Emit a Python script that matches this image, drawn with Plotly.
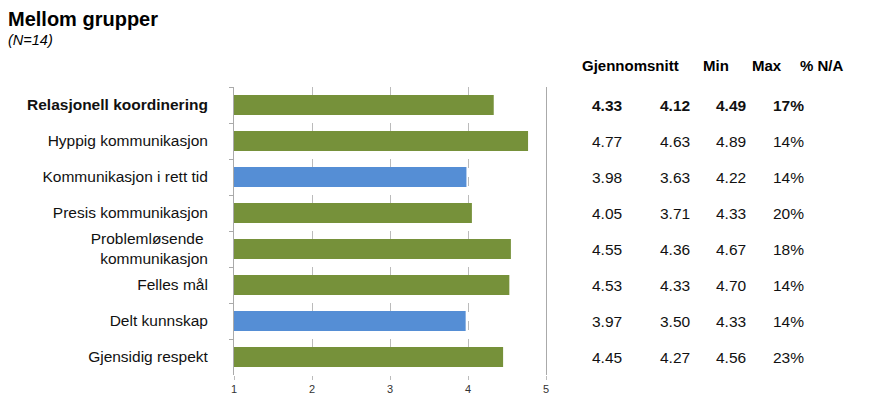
import plotly.graph_objects as go

categories = [
    "<b>Relasjonell koordinering</b>",
    "Hyppig kommunikasjon",
    "Kommunikasjon i rett tid",
    "Presis kommunikasjon",
    "Problemløsende <br>kommunikasjon",
    "Felles mål",
    "Delt kunnskap",
    "Gjensidig respekt",
]
snitt = [4.33, 4.77, 3.98, 4.05, 4.55, 4.53, 3.97, 4.45]
minimum = [4.12, 4.63, 3.63, 3.71, 4.36, 4.33, 3.50, 4.27]
maksimum = [4.49, 4.89, 4.22, 4.33, 4.67, 4.70, 4.33, 4.56]
pct_na = [17, 14, 14, 20, 18, 14, 14, 23]
is_blue = [False, False, True, False, False, False, True, False]

headers = ["Gjennomsnitt", "Min", "Max", "% N/A"]

GREEN = "#76913A"
BLUE = "#558ED5"
FONT = "Liberation Sans, Arial, sans-serif"

W, H = 882, 402
L, R, T, B = 234, 336, 87, 27
plot_w = W - L - R


def px_to_paper(px):
    return (px - L) / plot_w


fig = go.Figure(
    go.Bar(
        x=snitt,
        y=categories,
        orientation="h",
        marker=dict(color=[BLUE if b else GREEN for b in is_blue], line=dict(width=0)),
        width=0.56,
        hoverinfo="x+y",
    )
)

# title block
fig.add_annotation(
    x=px_to_paper(6), y=1, xref="paper", yref="paper", yshift=T - 19,
    text="<b>Mellom grupper</b>", showarrow=False,
    font=dict(size=20, color="#000"), xanchor="left", yanchor="middle",
)
fig.add_annotation(
    x=px_to_paper(6), y=1, xref="paper", yref="paper", yshift=T - 40,
    text="<i>(N=14)</i>", showarrow=False,
    font=dict(size=14.5, color="#000"), xanchor="left", yanchor="middle",
)

# table columns next to the chart
col_x = [607, 675, 731, 788]
head_x = [630, 716, 767, 822]
for hx, h in zip(head_x, headers):
    fig.add_annotation(
        x=px_to_paper(hx), y=1, xref="paper", yref="paper", yshift=T - 65,
        text=f"<b>{h}</b>", showarrow=False, font=dict(size=15, color="#000"),
        xanchor="center", yanchor="middle",
    )

for i, cat in enumerate(categories):
    vals = [f"{snitt[i]:.2f}", f"{minimum[i]:.2f}", f"{maksimum[i]:.2f}", f"{pct_na[i]}%"]
    for cx, v in zip(col_x, vals):
        txt = f"<b>{v}</b>" if i == 0 else v
        fig.add_annotation(
            x=px_to_paper(cx), y=cat, xref="paper", yref="y",
            text=txt, showarrow=False, font=dict(size=15.5, color="#111"),
            xanchor="center", yanchor="middle",
        )

fig.update_layout(
    width=W, height=H,
    margin=dict(l=L, r=R, t=T, b=B, autoexpand=False),
    paper_bgcolor="white", plot_bgcolor="white",
    font=dict(family=FONT, color="#111"),
    showlegend=False,
)

fig.update_xaxes(
    range=[1, 5], tickvals=[1, 2, 3, 4, 5],
    ticks="outside", ticklen=4, tickcolor="#BBBBBB",
    tickfont=dict(size=11, color="#333"),
    showgrid=True, gridcolor="#BBBBBB", griddash="dash", gridwidth=1,
    zeroline=False, showline=False, fixedrange=True, automargin=False,
)
fig.update_yaxes(
    autorange="reversed", tickfont=dict(size=15.5, color="#111"),
    showline=True, mirror=True, linecolor="#AAAAAA", linewidth=1,
    ticks="outside", tickson="boundaries", ticklen=4, tickcolor="#AAAAAA",
    ticklabelstandoff=22, showgrid=False, fixedrange=True, automargin=False,
)

fig.write_html(
    "out.html",
    config={"displayModeBar": False},
    post_script="document.body.style.margin='0';document.body.style.overflow='hidden';",
)
